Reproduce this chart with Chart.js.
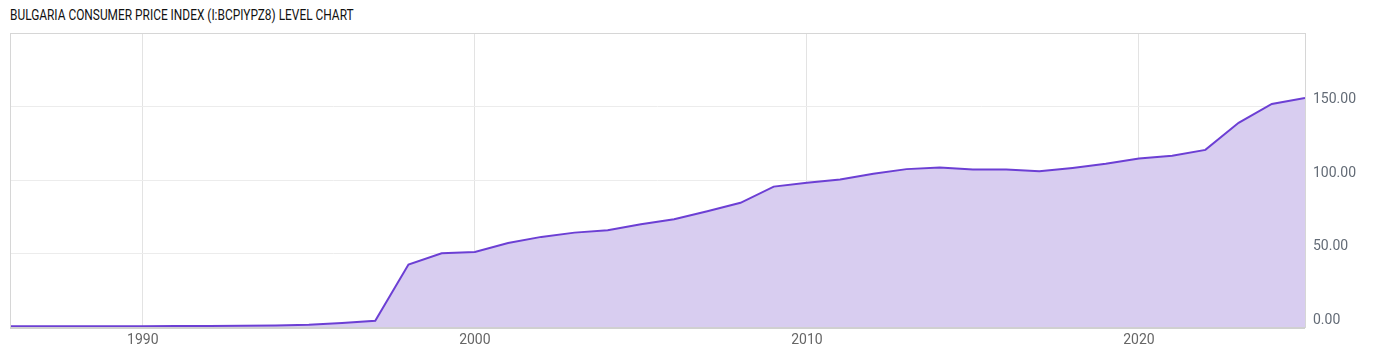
<!DOCTYPE html>
<html>
<head>
<meta charset="utf-8">
<script src="https://cdn.jsdelivr.net/npm/chart.js@4/dist/chart.umd.min.js"></script>
<style>
  html, body { margin: 0; padding: 0; background: #fff; }
  .wrap { position: relative; width: 1400px; height: 357px; }
  .title {
    position: absolute; left: 10px; top: 7px;
    font-family: Roboto, sans-serif; font-size: 14px; color: #111;
    transform: scaleX(0.85); transform-origin: left top; white-space: nowrap;
  }
  canvas { position: absolute; left: 0; top: 0; }
</style>
</head>
<body>
<div class="wrap">
  <div class="title">BULGARIA CONSUMER PRICE INDEX (I:BCPIYPZ8) LEVEL CHART</div>
  <canvas id="cpiChart" width="1400" height="357"></canvas>
</div>
<script>
// Yearly CPI level
const years = [1986, 1987, 1988, 1989, 1990, 1991, 1992, 1993, 1994, 1995, 1996, 1997, 1998, 1999,
  2000, 2001, 2002, 2003, 2004, 2005, 2006, 2007, 2008, 2009, 2010, 2011, 2012, 2013, 2014, 2015,
  2016, 2017, 2018, 2019, 2020, 2021, 2022, 2023, 2024, 2025];
const cpiValues = [0.5, 0.5, 0.5, 0.5, 0.5, 0.6, 0.7, 0.8, 1.1, 1.6, 2.7, 4.3, 42.5, 50.2,
  51.1, 57.2, 61.3, 64.2, 65.8, 69.9, 73.3, 78.7, 84.5, 95.5, 98.2, 100.4, 104.3, 107.4, 108.5, 107.2,
  107.1, 105.9, 108.2, 111.0, 114.6, 116.5, 120.5, 138.9, 151.7, 155.8];
const xTicks = [1990, 2000, 2010, 2020];
const yTicks = [0, 50, 100, 150];

const points = years.map((yr, i) => ({ x: yr, y: cpiValues[i] }));

// Box around the plot area
const frame = {
  id: 'frame',
  afterDraw(chart) {
    const a = chart.chartArea;
    const c = chart.ctx;
    c.save();
    c.strokeStyle = '#d6d6d6';
    c.lineWidth = 1;
    c.strokeRect(a.left + 0.5, a.top + 0.5, a.right - a.left, a.bottom - a.top);
    c.strokeStyle = '#d0d0d0';
    c.lineWidth = 2;
    c.beginPath();
    c.moveTo(a.left, a.bottom + 1);
    c.lineTo(a.right, a.bottom + 1);
    c.stroke();
    c.restore();
  }
};

new Chart(document.getElementById('cpiChart'), {
  type: 'line',
  data: {
    datasets: [{
      data: points,
      borderColor: '#6c3fd4',
      backgroundColor: '#d8cdf0',
      borderWidth: 2,
      fill: 'origin',
      pointRadius: 0,
      tension: 0
    }]
  },
  options: {
    responsive: false,
    animation: false,
    layout: { padding: { left: 10, top: 33, right: 0, bottom: 0 } },
    plugins: { legend: { display: false }, tooltip: { enabled: false } },
    scales: {
      x: {
        type: 'linear',
        min: 1986,
        max: 2025,
        afterBuildTicks: s => { s.ticks = xTicks.map(v => ({ value: v })); },
        afterFit: s => { s.height = 30; },
        grid: { color: '#e3e3e3', drawTicks: false },
        border: { display: false },
        ticks: {
          padding: 5,
          color: '#666',
          font: { family: 'Roboto', size: 14 },
          maxRotation: 0,
          callback: v => String(v)
        }
      },
      y: {
        position: 'right',
        min: 0,
        max: 200,
        afterBuildTicks: s => { s.ticks = yTicks.concat([200]).map(v => ({ value: v })); },
        afterFit: s => { s.width = 95; },
        grid: { color: '#ececec', drawTicks: false },
        border: { display: false },
        ticks: {
          padding: 8,
          labelOffset: -7,
          color: '#636b76',
          font: { family: 'Roboto', size: 14 },
          callback: v => (v === 200 ? '' : v.toFixed(2))
        }
      }
    }
  },
  plugins: [frame]
});
</script>
</body>
</html>
